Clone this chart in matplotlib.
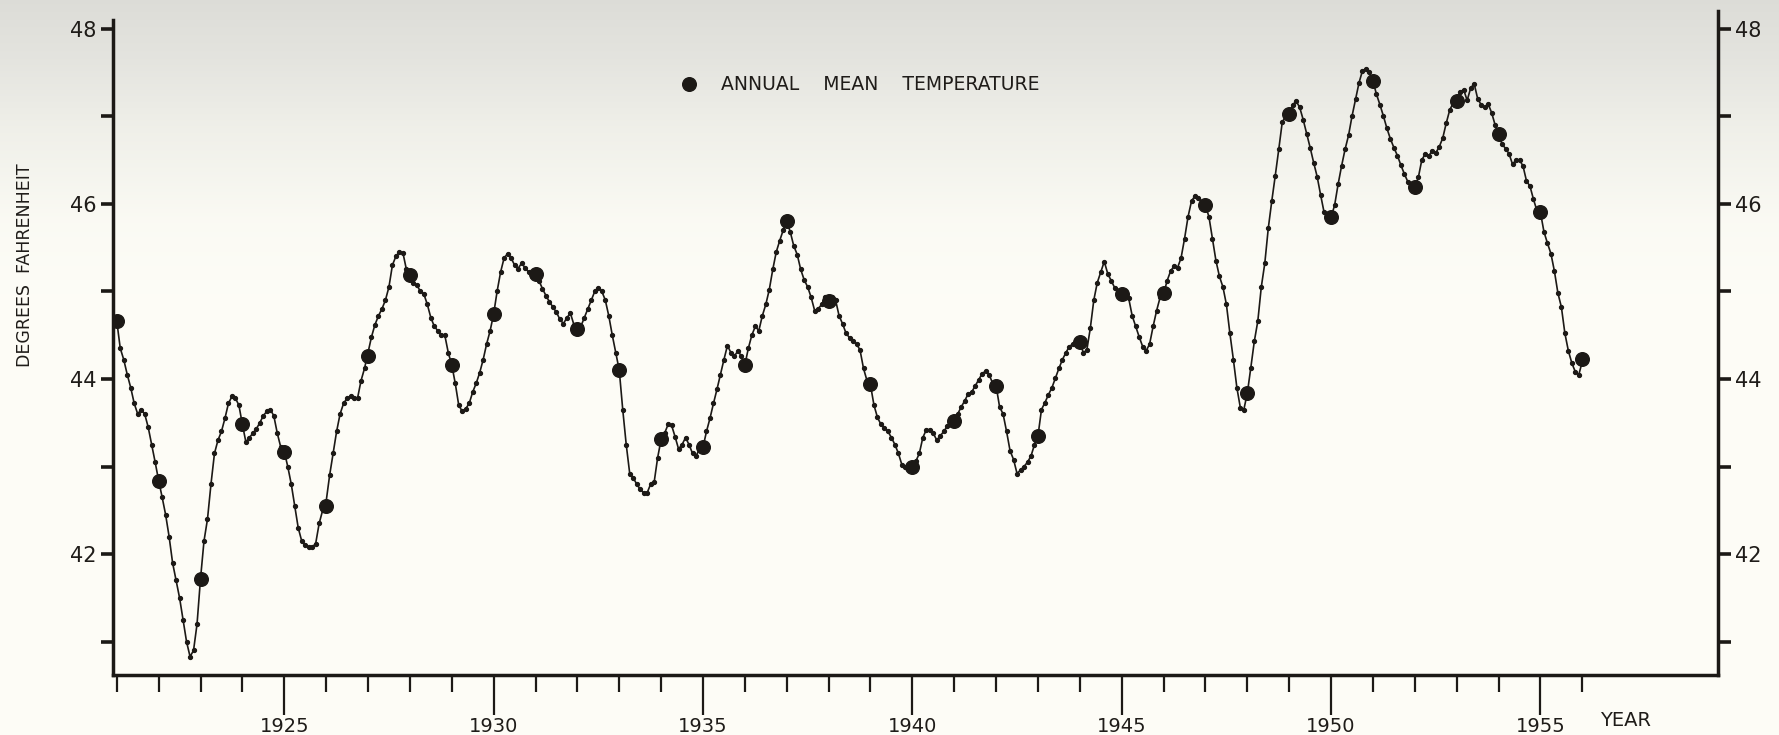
import numpy as np
import matplotlib
matplotlib.use('Agg')
import matplotlib.pyplot as plt
from matplotlib.lines import Line2D

plt.rcParams['font.family'] = ['DejaVu Sans']

# annual mean temperature, degrees F
YEARS = list(range(1921, 1957))
ANNUAL_MEAN = [44.66, 42.84, 41.72, 43.48, 43.17, 42.55, 44.26, 45.19, 44.16, 44.74,
               45.20, 44.57, 44.10, 43.31, 43.22, 44.16, 45.80, 44.89, 43.94, 42.99,
               43.52, 43.92, 43.35, 44.42, 44.97, 44.98, 45.98, 43.84, 47.02, 45.85,
               47.40, 46.19, 47.17, 46.80, 45.91, 44.23]

# 12-month running mean, one value per month starting Jan 1921
RUNNING_1921_1930 = [
    44.66, 44.35, 44.22, 44.05, 43.90, 43.72, 43.60, 43.65, 43.60, 43.45, 43.25, 43.05,
    42.84, 42.65, 42.45, 42.20, 41.90, 41.70, 41.50, 41.25, 41.00, 40.83, 40.90, 41.20,
    41.72, 42.15, 42.40, 42.80, 43.15, 43.30, 43.40, 43.55, 43.72, 43.80, 43.78, 43.70,
    43.48, 43.28, 43.33, 43.38, 43.43, 43.50, 43.58, 43.63, 43.65, 43.58, 43.38, 43.22,
    43.17, 43.00, 42.80, 42.55, 42.30, 42.15, 42.10, 42.08, 42.08, 42.12, 42.35, 42.50,
    42.60, 42.90, 43.15, 43.40, 43.60, 43.72, 43.78, 43.80, 43.78, 43.78, 43.98, 44.12,
    44.30, 44.48, 44.62, 44.72, 44.80, 44.90, 45.05, 45.30, 45.40, 45.45, 45.44, 45.25,
    45.19, 45.10, 45.07, 45.00, 44.97, 44.85, 44.70, 44.60, 44.55, 44.50, 44.50, 44.30,
    44.16, 43.95, 43.70, 43.63, 43.66, 43.72, 43.85, 43.95, 44.07, 44.22, 44.40, 44.55,
    44.74, 45.00, 45.22, 45.38, 45.43, 45.38, 45.30, 45.26, 45.32, 45.27, 45.22, 45.18,
]
RUNNING_1931_1940 = [
    45.20, 45.12, 45.03, 44.95, 44.88, 44.82, 44.76, 44.68, 44.63, 44.70, 44.75, 44.62,
    44.57, 44.60, 44.70, 44.80, 44.90, 45.00, 45.04, 45.00, 44.90, 44.72, 44.50, 44.30,
    44.10, 43.65, 43.25, 42.92, 42.87, 42.80, 42.74, 42.70, 42.70, 42.80, 42.82, 43.10,
    43.31, 43.38, 43.48, 43.47, 43.34, 43.20, 43.25, 43.33, 43.25, 43.15, 43.12, 43.20,
    43.22, 43.40, 43.55, 43.72, 43.88, 44.05, 44.22, 44.38, 44.30, 44.26, 44.32, 44.26,
    44.16, 44.35, 44.50, 44.60, 44.55, 44.72, 44.85, 45.02, 45.25, 45.45, 45.58, 45.70,
    45.80, 45.68, 45.52, 45.42, 45.25, 45.13, 45.05, 44.93, 44.78, 44.80, 44.85, 44.93,
    44.89, 44.94, 44.90, 44.72, 44.63, 44.52, 44.47, 44.43, 44.40, 44.33, 44.12, 43.98,
    43.93, 43.70, 43.56, 43.48, 43.44, 43.40, 43.33, 43.25, 43.15, 43.02, 43.00, 43.00,
    42.99, 43.06, 43.15, 43.33, 43.42, 43.42, 43.38, 43.30, 43.35, 43.40, 43.46, 43.50,
]
RUNNING_1941_1950 = [
    43.52, 43.60, 43.68, 43.75, 43.83, 43.85, 43.92, 43.99, 44.06, 44.09, 44.05, 43.95,
    43.92, 43.68, 43.60, 43.40, 43.18, 43.08, 42.92, 42.96, 43.00, 43.05, 43.12, 43.25,
    43.35, 43.65, 43.73, 43.82, 43.90, 44.01, 44.12, 44.22, 44.30, 44.37, 44.40, 44.43,
    44.42, 44.30, 44.33, 44.58, 44.90, 45.10, 45.22, 45.34, 45.20, 45.12, 45.04, 44.98,
    44.96, 45.00, 44.92, 44.72, 44.60, 44.48, 44.37, 44.32, 44.40, 44.60, 44.78, 44.93,
    44.97, 45.12, 45.23, 45.29, 45.27, 45.38, 45.60, 45.85, 46.03, 46.09, 46.07, 46.02,
    45.98, 45.85, 45.60, 45.35, 45.17, 45.05, 44.85, 44.52, 44.22, 43.90, 43.67, 43.65,
    43.84, 44.13, 44.43, 44.66, 45.05, 45.32, 45.72, 46.03, 46.32, 46.62, 46.93, 47.00,
    47.02, 47.13, 47.17, 47.10, 46.96, 46.80, 46.64, 46.47, 46.31, 46.10, 45.90, 45.85,
    45.85, 45.98, 46.22, 46.43, 46.62, 46.78, 47.00, 47.19, 47.38, 47.52, 47.54, 47.50,
]
RUNNING_1951_1956 = [
    47.40, 47.25, 47.13, 47.00, 46.86, 46.74, 46.64, 46.55, 46.44, 46.34, 46.25, 46.20,
    46.19, 46.30, 46.50, 46.57, 46.55, 46.60, 46.58, 46.65, 46.75, 46.92, 47.07, 47.15,
    47.17, 47.28, 47.30, 47.18, 47.32, 47.37, 47.20, 47.13, 47.10, 47.14, 47.04, 46.90,
    46.80, 46.68, 46.63, 46.57, 46.45, 46.50, 46.50, 46.43, 46.26, 46.20, 46.05, 45.92,
    45.90, 45.68, 45.55, 45.43, 45.23, 44.98, 44.82, 44.52, 44.32, 44.18, 44.08, 44.05,
    44.20,
]

LABELED_YEARS = [1925, 1930, 1935, 1940, 1945, 1950, 1955]
TEMP_TICKS = [41, 42, 43, 44, 45, 46, 47, 48]

INK = '#1c1916'
TEXT = '#1f1c19'

W, H = 1779, 735
fig = plt.figure(figsize=(W / 100, H / 100), dpi=100)

# paper tone: greyish at the top fading into cream
bg = fig.add_axes([0, 0, 1, 1], zorder=0)
bg.axis('off')
rows = np.arange(H)
stop_rows = [0, 60, 130, 220, 300, H]
stop_rgb = [(0.865, 0.865, 0.845), (0.895, 0.895, 0.875), (0.94, 0.94, 0.915),
            (0.982, 0.98, 0.955), (0.993, 0.991, 0.968), (0.993, 0.991, 0.968)]
grad = np.stack([np.interp(rows, stop_rows, [c[i] for c in stop_rgb]) for i in range(3)], axis=-1)
bg.imshow(grad[:, None, :], aspect='auto', extent=[0, 1, 0, 1])

ax = fig.add_axes([113 / W, (H - 675) / H, (1718 - 113) / W, (675 - 11) / H], zorder=1)
ax.set_facecolor('none')

running = RUNNING_1921_1930 + RUNNING_1931_1940 + RUNNING_1941_1950 + RUNNING_1951_1956
months = 1921 + np.arange(len(running)) / 12.0

ax.plot(months, running, '-', color=INK, lw=1.2, marker='o', ms=2.8, mfc=INK, mec=INK)
ax.plot(YEARS, ANNUAL_MEAN, 'o', ls='none', ms=9.8, color=INK)

ax.set_xlim(1920.91, 1959.24)
ax.set_ylim(40.62, 48.2)

ax.spines['top'].set_visible(False)
for side in ['left', 'right', 'bottom']:
    ax.spines[side].set_linewidth(2.5)
    ax.spines[side].set_color(INK)
ax.spines['left'].set_bounds(40.62, 48.1)

ax.set_xticks(LABELED_YEARS)
ax.set_xticks([y for y in YEARS if y not in LABELED_YEARS], minor=True)
ax.tick_params(axis='x', which='major', direction='out', length=29, width=1.6,
               color=INK, pad=1, labelsize=14, labelcolor=TEXT)
ax.tick_params(axis='x', which='minor', direction='out', length=12, width=1.6, color=INK)

ax.set_yticks(TEMP_TICKS)
ax.set_yticklabels([str(t) if t % 2 == 0 else '' for t in TEMP_TICKS])
ax.tick_params(axis='y', which='major', left=True, right=True, labelleft=True, labelright=True,
               direction='out', length=9, width=2.6, color=INK, pad=3, labelsize=15,
               labelcolor=TEXT)

fig.text(25 / W, 1 - 265 / H, 'DEGREES  FAHRENHEIT', rotation=90, ha='center', va='center',
         fontsize=12.5, color=TEXT)
fig.text(1600 / W, 1 - 721 / H, 'YEAR', ha='left', va='center', fontsize=14, color=TEXT)

dot = Line2D([], [], ls='none', marker='o', ms=9.8, color=INK)
ax.legend(handles=[dot], labels=['ANNUAL    MEAN    TEMPERATURE'], loc='center left',
          bbox_to_anchor=(679.7 / W, 1 - 85 / H), bbox_transform=fig.transFigure,
          frameon=False, handlelength=1.0, handletextpad=1.2, borderpad=0,
          borderaxespad=0, fontsize=13.5, labelcolor=TEXT)

fig.savefig('out.png', dpi=100)
